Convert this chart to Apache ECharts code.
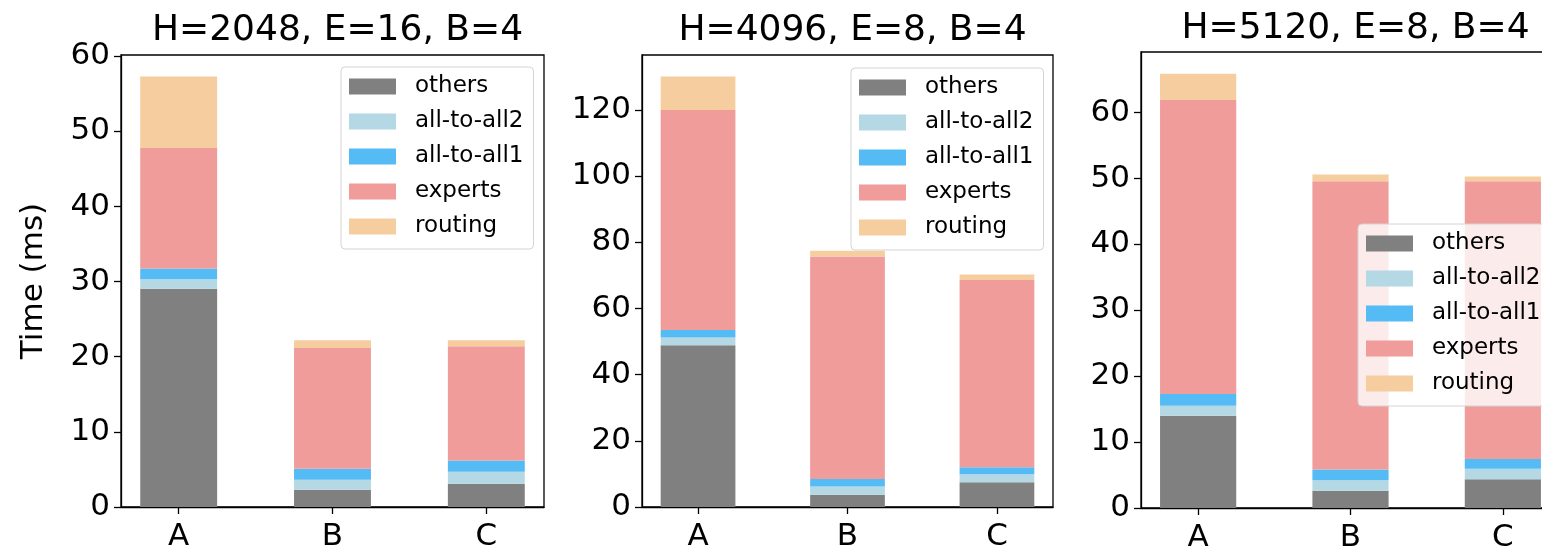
<!DOCTYPE html>
<html>
<head>
<meta charset="utf-8">
<script src="https://cdn.jsdelivr.net/npm/echarts@6/dist/echarts.min.js"></script>
<style>
  html, body { margin: 0; padding: 0; background: #fff; }
  #chart { width: 1542px; height: 553px; }
</style>
</head>
<body>
<div id="chart"></div>
<script>
// Categories and stacked components (ms), bottom to top
const categories = ['A', 'B', 'C'];
const componentNames = ['others', 'all-to-all2', 'all-to-all1', 'experts', 'routing'];
const componentColors = ['#808080', '#b4d8e4', '#55bbf5', '#f09c9a', '#f5cd9f'];
const panelTitles = ['H=2048, E=16, B=4', 'H=4096, E=8, B=4', 'H=5120, E=8, B=4'];

// H=2048, E=16, B=4
const h2048Others   = [29.05, 2.3, 3.1];
const h2048A2A2     = [1.25, 1.34, 1.6];
const h2048A2A1     = [1.45, 1.46, 1.5];
const h2048Experts  = [16.05, 16.05, 15.2];
const h2048Routing  = [9.5, 1.05, 0.8];

// H=4096, E=8, B=4
const h4096Others   = [48.85, 3.73, 7.47];
const h4096A2A2     = [2.35, 2.43, 2.43];
const h4096A2A1     = [2.3, 2.32, 2.1];
const h4096Experts  = [66.5, 67.2, 56.6];
const h4096Routing  = [10.1, 1.8, 1.65];

// H=5120, E=8, B=4
const h5120Others   = [14.0, 2.6, 4.35];
const h5120A2A2     = [1.5, 1.6, 1.6];
const h5120A2A1     = [1.8, 1.65, 1.5];
const h5120Experts  = [44.6, 43.75, 42.15];
const h5120Routing  = [4.0, 1.0, 0.7];

// y-axis tick labels per panel
const yTicks2048 = [0, 10, 20, 30, 40, 50, 60];
const yTicks4096 = [0, 20, 40, 60, 80, 100, 120];
const yTicks5120 = [0, 10, 20, 30, 40, 50, 60];

const panels = [
  { title: panelTitles[0], series: [h2048Others, h2048A2A2, h2048A2A1, h2048Experts, h2048Routing], ticks: yTicks2048,
    frame: { left: 121, top: 55, width: 423, height: 452 }, legend: { left: 341, top: 67 }, titleTop: 8 },
  { title: panelTitles[1], series: [h4096Others, h4096A2A2, h4096A2A1, h4096Experts, h4096Routing], ticks: yTicks4096,
    frame: { left: 642, top: 55, width: 411, height: 452 }, legend: { left: 851, top: 68 }, titleTop: 8 },
  { title: panelTitles[2], series: [h5120Others, h5120A2A2, h5120A2A1, h5120Experts, h5120Routing], ticks: yTicks5120,
    frame: { left: 1141, top: 52, width: 419, height: 456 }, legend: { left: 1358, top: 224 }, titleTop: 6 }
];

const FONT = 'DejaVu Sans';
// frame spans from 0.375 category spacings left of the first bar centre to 0.375 right of the last
const EDGE = 0.375;
const X_MIN = -EDGE, X_MAX = categories.length - 1 + EDGE;
const AXIS_STYLE = { color: '#000', width: 1.3 };

const option = {
  animation: false,
  backgroundColor: '#fff',
  title: [], grid: [], xAxis: [], yAxis: [], legend: [], series: []
};

panels.forEach((p, i) => {
  const totals = categories.map((_, k) => p.series.reduce((s, arr) => s + arr[k], 0));
  const yMax = Math.max(...totals) * 1.05;
  const f = p.frame;
  const spacing = f.width / (X_MAX - X_MIN);
  const frameIdx = 2 * i, dataIdx = 2 * i + 1;

  option.title.push({
    text: p.title,
    left: f.left + f.width / 2,
    top: p.titleTop,
    textAlign: 'center',
    textStyle: { fontFamily: FONT, fontSize: 36, fontWeight: 'normal', color: '#000' }
  });

  // axes frame with the y scale
  option.grid.push({
    left: f.left, top: f.top, width: f.width, height: f.height,
    outerBoundsMode: 'none', containLabel: false,
    show: true, borderColor: '#000', borderWidth: 1.3, backgroundColor: 'transparent'
  });
  // category band grid holding the bars (one band per category)
  option.grid.push({
    left: f.left - (0.5 - EDGE) * spacing, top: f.top,
    width: spacing * categories.length, height: f.height,
    outerBoundsMode: 'none', containLabel: false,
    show: false
  });

  option.xAxis.push({
    type: 'value', gridIndex: frameIdx, min: X_MIN, max: X_MAX,
    splitLine: { show: false },
    axisLine: { show: true, onZero: false, lineStyle: AXIS_STYLE },
    axisTick: { show: false },
    axisLabel: { show: false }
  });
  option.xAxis.push({
    type: 'category', gridIndex: dataIdx, data: categories,
    axisLine: { show: false },
    axisTick: { show: true, alignWithLabel: true, length: 7, lineStyle: AXIS_STYLE },
    axisLabel: { margin: 14, fontFamily: FONT, fontSize: 31, color: '#000' },
    splitLine: { show: false }
  });

  option.yAxis.push({
    type: 'value', gridIndex: frameIdx, min: 0, max: yMax,
    name: i === 0 ? 'Time (ms)' : '',
    nameLocation: 'middle', nameGap: 72,
    nameTextStyle: { fontFamily: FONT, fontSize: 31, color: '#000' },
    splitLine: { show: false },
    axisLine: { show: true, onZero: false, lineStyle: AXIS_STYLE },
    axisTick: { show: true, customValues: p.ticks, length: 7, lineStyle: AXIS_STYLE },
    axisLabel: { customValues: p.ticks, margin: 11, fontFamily: FONT, fontSize: 31, color: '#000' }
  });
  option.yAxis.push({
    type: 'value', gridIndex: dataIdx, min: 0, max: yMax, show: false
  });

  option.legend.push({
    orient: 'vertical',
    left: p.legend.left, top: p.legend.top,
    data: componentNames,
    selectedMode: false,
    icon: 'rect',
    itemWidth: 47, itemHeight: 16, itemGap: 12,
    padding: [8, 10, 11, 8],
    backgroundColor: 'rgba(255,255,255,0.8)',
    borderColor: '#d4d4d4', borderWidth: 1, borderRadius: 4,
    textStyle: { fontFamily: FONT, fontSize: 23, color: '#000', padding: [0, 0, 0, 14] }
  });

  p.series.forEach((arr, j) => {
    option.series.push({
      type: 'bar',
      name: componentNames[j],
      xAxisIndex: dataIdx, yAxisIndex: dataIdx,
      stack: 'panel' + i,
      barWidth: '50%',
      itemStyle: { color: componentColors[j] },
      data: arr
    });
  });
});

const chart = echarts.init(document.getElementById('chart'), null, { renderer: 'canvas' });
chart.setOption(option);
</script>
</body>
</html>
